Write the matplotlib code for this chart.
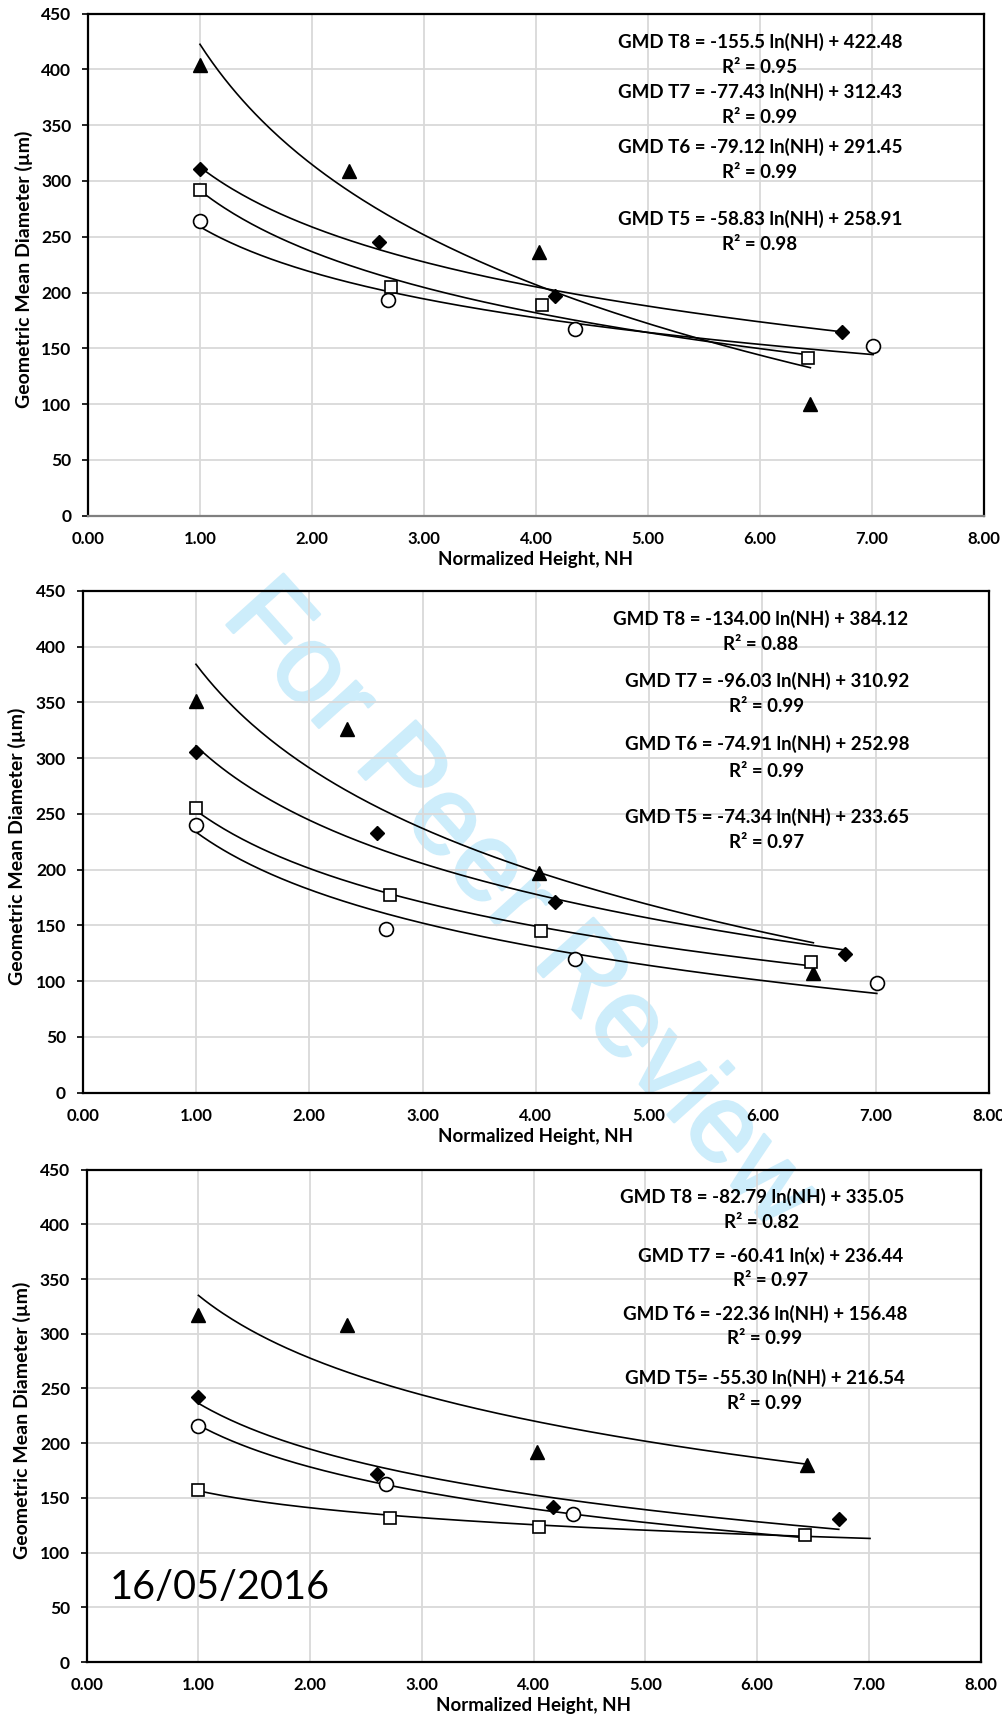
import matplotlib
matplotlib.use("Agg")
import matplotlib.pyplot as plt
import matplotlib.patheffects as pe
import numpy as np

plt.rcParams['font.family'] = ['Lato', 'DejaVu Sans']

# x positions (normalized height) of each treatment
x_t8 = [1.00, 2.33, 4.03, 6.45]
x_t7 = [1.00, 2.60, 4.17, 6.73]
x_t6 = [1.00, 2.71, 4.05, 6.43]
x_t5 = [1.00, 2.68, 4.35, 7.01]
x_t5_p3 = [1.00, 2.68, 4.35]

# GMD values, panel 1
p1_t8 = [404, 309, 236, 100]
p1_t7 = [311, 245, 197, 165]
p1_t6 = [292, 205, 189, 141]
p1_t5 = [264, 193, 167, 152]
# panel 2
p2_t8 = [351, 326, 197, 107]
p2_t7 = [305, 233, 171, 124]
p2_t6 = [255, 177, 145, 117]
p2_t5 = [240, 147, 120, 98]
# panel 3
p3_t8 = [317, 308, 192, 180]
p3_t7 = [242, 172, 142, 131]
p3_t6 = [157, 132, 123, 116]
p3_t5 = [216, 163, 135]

# log fits (slope, intercept) in order T8, T7, T6, T5
p1_fit = [(-155.5, 422.48), (-77.43, 312.43), (-79.12, 291.45), (-58.83, 258.91)]
p2_fit = [(-134.00, 384.12), (-96.03, 310.92), (-74.91, 252.98), (-74.34, 233.65)]
p3_fit = [(-82.79, 335.05), (-60.41, 236.44), (-22.36, 156.48), (-55.30, 216.54)]
p1_fit_end = [6.45, 6.73, 6.43, 7.01]
p2_fit_end = [6.45, 6.73, 6.43, 7.01]
p3_fit_end = [6.45, 6.73, 7.01, 6.44]

p1_eq = ["GMD T8 = -155.5 ln(NH) + 422.48", "GMD T7 = -77.43 ln(NH) + 312.43",
         "GMD T6 = -79.12 ln(NH) + 291.45", "GMD T5 = -58.83 ln(NH) + 258.91"]
p1_r2 = ["R² = 0.95", "R² = 0.99", "R² = 0.99", "R² = 0.98"]
p2_eq = ["GMD T8 = -134.00 ln(NH) + 384.12", "GMD T7 = -96.03 ln(NH) + 310.92",
         "GMD T6 = -74.91 ln(NH) + 252.98", "GMD T5 = -74.34 ln(NH) + 233.65"]
p2_r2 = ["R² = 0.88", "R² = 0.99", "R² = 0.99", "R² = 0.97"]
p3_eq = ["GMD T8 = -82.79 ln(NH) + 335.05", "GMD T7 = -60.41 ln(x) + 236.44",
         "GMD T6 = -22.36 ln(NH) + 156.48", "GMD T5= -55.30 ln(NH) + 216.54"]
p3_r2 = ["R² = 0.82", "R² = 0.97", "R² = 0.99", "R² = 0.99"]

# label placement (x centre, eq baseline, r2 baseline)
p1_lab = [(6.0, 419, 396.6), (6.0, 374, 351.7), (6.0, 324.8, 302.4), (6.0, 260.6, 238.2)]
p2_lab = [(5.98, 419.7, 396.8), (6.04, 364.2, 341.4), (6.04, 307.2, 283.4), (6.04, 242, 219.1)]
p3_lab = [(6.04, 419.2, 396.9), (6.12, 365.8, 343.9), (6.07, 312.3, 290.3), (6.07, 254.3, 231)]

fig = plt.figure(figsize=(10.02, 17.2), dpi=100)
fig.patch.set_facecolor('white')

# watermark, under the axes content
fig.text(0.518, 0.473, "For Peer Review", rotation=-48, rotation_mode='anchor',
         fontsize=80, color='#cdedfb', family='Liberation Sans',
         ha='center', va='center', zorder=-1,
         path_effects=[pe.withStroke(linewidth=2, foreground='#cdedfb')])

rects = [[0.0878, 0.7002, 0.8942, 0.2919],
         [0.0825, 0.3648, 0.9045, 0.2917],
         [0.0865, 0.0337, 0.8922, 0.2863]]

panels = [
    (x_t8, p1_t8, x_t7, p1_t7, x_t6, p1_t6, x_t5, p1_t5, p1_fit, p1_fit_end, p1_eq, p1_r2, p1_lab),
    (x_t8, p2_t8, x_t7, p2_t7, x_t6, p2_t6, x_t5, p2_t5, p2_fit, p2_fit_end, p2_eq, p2_r2, p2_lab),
    (x_t8, p3_t8, x_t7, p3_t7, x_t6, p3_t6, x_t5_p3, p3_t5, p3_fit, p3_fit_end, p3_eq, p3_r2, p3_lab),
]

styles = [dict(marker='^', ms=10, mfc='black', mec='black'),
          dict(marker='D', ms=7.5, mfc='black', mec='black'),
          dict(marker='s', ms=9, mfc='white', mec='black', mew=1.2),
          dict(marker='o', ms=10, mfc='white', mec='black', mew=1.2)]

for i, (rect, pan) in enumerate(zip(rects, panels)):
    ax = fig.add_axes(rect)
    ax.set_facecolor('none')
    xs = [pan[0], pan[2], pan[4], pan[6]]
    ys = [pan[1], pan[3], pan[5], pan[7]]
    fits, ends, eqs, r2s, labs = pan[8], pan[9], pan[10], pan[11], pan[12]

    for (a, b), e in zip(fits, ends):
        xx = np.linspace(1.0, e, 200)
        ax.plot(xx, a * np.log(xx) + b, color='black', lw=1.2, zorder=3)
    for x, y, st in zip(xs, ys, styles):
        ax.plot(x, y, ls='none', zorder=4, **st)

    for eq, r2, (lx, ly1, ly2) in zip(eqs, r2s, labs):
        ax.text(lx, ly1, eq, ha='center', va='baseline', fontsize=13.5, fontweight='bold')
        ax.text(lx, ly2, r2, ha='center', va='baseline', fontsize=13.5, fontweight='bold')

    ax.set_xlim(0, 8)
    ax.set_ylim(0, 450)
    ax.set_xticks(np.arange(0, 9, 1))
    ax.set_xticklabels(["%.2f" % v for v in np.arange(0, 9, 1)])
    ax.set_yticks(np.arange(0, 451, 50))
    ax.grid(True, color='#d9d9d9', lw=1.3, zorder=0)
    ax.set_axisbelow(True)
    ax.tick_params(axis='x', length=0, pad=11, labelsize=12)
    ax.tick_params(axis='y', length=4, width=1.2, pad=8, labelsize=12.5)
    for lab in ax.get_xticklabels() + ax.get_yticklabels():
        lab.set_fontweight('bold')
    for sp in ax.spines.values():
        sp.set_linewidth(1.6)
        sp.set_color('black')
    if i == 0:
        ax.spines['bottom'].set_color('#7f7f7f')

    ax.set_xlabel("Normalized Height, NH", fontsize=13.5, fontweight='bold', labelpad=3)
    ax.text(-0.072, 0.49, "Geometric Mean Diameter (µm)", rotation=90, ha='center', va='center',
            fontsize=14, fontweight='bold', transform=ax.transAxes)

    if i == 2:
        ax.text(0.21, 57.6, "16/05/2016", fontsize=28.5, va='baseline', ha='left')

fig.savefig("out.png", dpi=100, facecolor='white')
